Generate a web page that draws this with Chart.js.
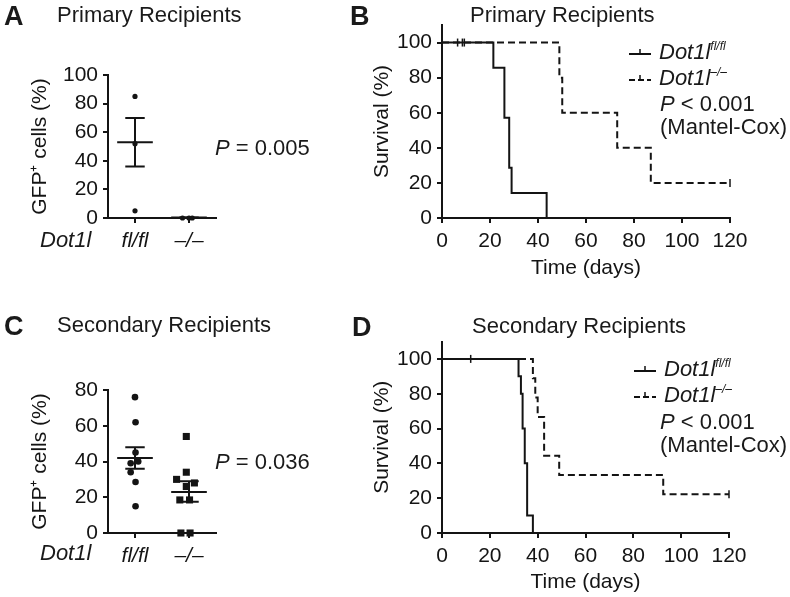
<!DOCTYPE html>
<html>
<head>
<meta charset="utf-8">
<script src="https://cdn.jsdelivr.net/npm/chart.js"></script>
<style>
body { margin: 0; background: #fff; font-family: "Liberation Sans", Arial, sans-serif; color: #1a1a1a; }
#wrap { position: relative; width: 790px; height: 597px; overflow: hidden; }
canvas { position: absolute; }
.t { position: absolute; white-space: nowrap; transform: translateY(-50%); font-size: 22px; line-height: 1; }
.lt { font-weight: bold; font-size: 27px; }
.t sup { font-size: 12px; vertical-align: 9px; line-height: 0; }
.t svg { vertical-align: middle; margin-right: 8px; }
</style>
</head>
<body>
<div id="wrap">
  <canvas id="cA" width="330" height="290" style="left:0;top:0"></canvas>
  <canvas id="cB" width="460" height="290" style="left:330px;top:0"></canvas>
  <canvas id="cC" width="330" height="297" style="left:0;top:300px"></canvas>
  <canvas id="cD" width="460" height="297" style="left:330px;top:300px"></canvas>

  <div class="t lt" style="left:4px;top:16px">A</div>
  <div class="t" style="left:57px;top:15px">Primary Recipients</div>
  <div class="t" style="left:215px;top:148px"><i>P</i> = 0.005</div>
  <div class="t" style="left:40px;top:240px"><i>Dot1l</i></div>

  <div class="t lt" style="left:350px;top:16px">B</div>
  <div class="t" style="left:470px;top:15px">Primary Recipients</div>
  <div class="t" style="left:629px;top:52px"><svg width="22" height="10"><line x1="0" y1="6" x2="22" y2="6" stroke="#111" stroke-width="2"/><line x1="11" y1="1" x2="11" y2="6" stroke="#111" stroke-width="1.5"/></svg><i>Dot1l<sup>fl/fl</sup></i></div>
  <div class="t" style="left:629px;top:78px"><svg width="22" height="10"><line x1="0" y1="6" x2="22" y2="6" stroke="#111" stroke-width="2" stroke-dasharray="6 3"/><line x1="11" y1="1" x2="11" y2="6" stroke="#111" stroke-width="1.5"/></svg><i>Dot1l<sup>–/–</sup></i></div>
  <div class="t" style="left:660px;top:104px"><i>P</i> &lt; 0.001</div>
  <div class="t" style="left:660px;top:127px">(Mantel-Cox)</div>

  <div class="t lt" style="left:4px;top:326px">C</div>
  <div class="t" style="left:57px;top:325px">Secondary Recipients</div>
  <div class="t" style="left:215px;top:462px"><i>P</i> = 0.036</div>
  <div class="t" style="left:40px;top:553px"><i>Dot1l</i></div>

  <div class="t lt" style="left:352px;top:327px">D</div>
  <div class="t" style="left:472px;top:326px">Secondary Recipients</div>
  <div class="t" style="left:634px;top:369px"><svg width="22" height="10"><line x1="0" y1="6" x2="22" y2="6" stroke="#111" stroke-width="2"/><line x1="11" y1="1" x2="11" y2="6" stroke="#111" stroke-width="1.5"/></svg><i>Dot1l<sup>fl/fl</sup></i></div>
  <div class="t" style="left:634px;top:395px"><svg width="22" height="10"><line x1="0" y1="6" x2="22" y2="6" stroke="#111" stroke-width="2" stroke-dasharray="6 3"/><line x1="11" y1="1" x2="11" y2="6" stroke="#111" stroke-width="1.5"/></svg><i>Dot1l<sup>–/–</sup></i></div>
  <div class="t" style="left:660px;top:422px"><i>P</i> &lt; 0.001</div>
  <div class="t" style="left:660px;top:445px">(Mantel-Cox)</div>
</div>
<script>
// groups on the dot plots
const groups = ['fl/fl', '–/–'];

// A: primary recipients, GFP+ cells (%)
const aFl = [85, 52, 5];
const aFlJit = [0, 0, 0];
const aKo = [0, 0, 0];
const aKoJit = [-0.12, 0, 0.06];
const aMean = [53, 0.3];
const aHi = [70, 0.6];
const aLo = [36, 0];

// C: secondary recipients, GFP+ cells (%)
const cFl = [76, 62, 45, 40, 39, 34, 28.5, 15];
const cFlJit = [0, 0.01, 0.01, 0.06, -0.08, -0.08, 0.01, 0.01];
const cKo = [54, 34, 30, 28, 26, 18.5, 18.5, 0, 0];
const cKoJit = [-0.05, -0.05, -0.23, 0.1, -0.05, -0.17, 0.01, -0.15, 0.02];
const cMean = [42, 23];
const cHi = [48, 29];
const cLo = [36, 17.5];

// B: primary recipients survival
const bFlDays = [0, 21.4, 26, 28, 29, 43.6];
const bFlSurv = [100, 85.7, 57.1, 28.6, 14.3, 0];
const bKoDays = [0, 48.9, 50.1, 73, 87, 120];
const bKoSurv = [100, 80, 60, 40, 20, 20];
const bFlCensor = [6.5, 8.5, 9.3];
const bKoCensor = [120];

// D: secondary recipients survival
const dFlDays = [0, 32, 33, 33.7, 34.6, 35.6, 38];
const dFlSurv = [100, 90, 80, 60, 40, 10, 0];
const dKoDays = [0, 38, 39, 40, 42.7, 49, 92.5, 120];
const dKoSurv = [100, 88.9, 77.8, 66.7, 44.4, 33.3, 22.2, 22.2];
const dFlCensor = [12];
const dKoCensor = [120];

const ink = '#141414';
Chart.defaults.font.family = '"Liberation Sans", Arial, sans-serif';
Chart.defaults.font.size = 21;
Chart.defaults.color = ink;
Chart.defaults.animation = false;
Chart.defaults.plugins.legend.display = false;
Chart.defaults.plugins.tooltip.enabled = false;

const gridOpt = { drawOnChartArea: false, drawTicks: true, tickLength: 5, color: ink, lineWidth: 2 };
const borderOpt = { display: true, color: ink, width: 2 };

function dotPanel(id, fl, flJ, ko, koJ, mean, hi, lo, yMax, pad, yW, xH, flR, koStyle, koR) {
  const pts = (v, j, c) => v.map((y, i) => ({ x: c + j[i], y: y }));
  const summary = [];
  [1, 2].forEach((c, g) => {
    summary.push(
      { x: c - 0.33, y: mean[g] }, { x: c + 0.33, y: mean[g] }, { x: c, y: null },
      { x: c, y: lo[g] }, { x: c, y: hi[g] }, { x: c, y: null },
      { x: c - 0.18, y: hi[g] }, { x: c + 0.18, y: hi[g] }, { x: c, y: null },
      { x: c - 0.18, y: lo[g] }, { x: c + 0.18, y: lo[g] }, { x: c, y: null }
    );
  });
  new Chart(document.getElementById(id), {
    type: 'scatter',
    data: {
      datasets: [
        { data: summary, showLine: true, spanGaps: false, pointRadius: 0, borderColor: ink, borderWidth: 2, clip: false },
        { data: pts(fl, flJ, 1), pointRadius: flR, pointStyle: 'circle', backgroundColor: ink, borderColor: ink, borderWidth: 0, clip: false },
        { data: pts(ko, koJ, 2), pointRadius: koR, pointStyle: koStyle, backgroundColor: ink, borderColor: ink, borderWidth: 0, clip: false }
      ]
    },
    options: {
      responsive: false,
      layout: { padding: pad },
      scales: {
        x: {
          type: 'linear', min: 0.5, max: 2.5,
          afterBuildTicks: s => { s.ticks = [{ value: 1 }, { value: 2 }]; },
          ticks: { callback: v => groups[Math.round(v) - 1], font: { size: 21, style: 'italic' }, padding: 6, maxRotation: 0, autoSkip: false },
          grid: gridOpt, border: borderOpt,
          afterFit: s => { s.height = xH; }
        },
        y: {
          min: 0, max: yMax,
          ticks: { stepSize: 20, padding: 5 },
          grid: gridOpt, border: borderOpt,
          title: { display: true, text: 'GFP⁺ cells (%)', font: { size: 21 }, padding: 0 },
          afterFit: s => { s.width = yW; }
        }
      }
    }
  });
}

function survPanel(id, flD, flS, koD, koS, flC, koC, pad, yW, xH) {
  const line = (d, s) => d.map((x, i) => ({ x: x, y: s[i] }));
  const at = (days, d, s) => days.map(x => {
    let v = s[0];
    d.forEach((dx, i) => { if (dx <= x) v = s[i]; });
    return { x: x, y: v };
  });
  new Chart(document.getElementById(id), {
    type: 'scatter',
    data: {
      datasets: [
        { data: line(flD, flS), showLine: true, stepped: true, pointRadius: 0, borderColor: ink, borderWidth: 2, clip: false },
        { data: line(koD, koS), showLine: true, stepped: true, pointRadius: 0, borderColor: ink, borderWidth: 2, borderDash: [7, 4], clip: false },
        { data: at(flC, flD, flS).concat(at(koC, koD, koS)), pointStyle: 'line', rotation: 90, pointRadius: 4, borderColor: ink, borderWidth: 1.5, clip: false }
      ]
    },
    options: {
      responsive: false,
      layout: { padding: pad },
      scales: {
        x: {
          type: 'linear', min: 0, max: 120,
          ticks: { stepSize: 20, padding: 6, maxRotation: 0 },
          grid: gridOpt, border: borderOpt,
          title: { display: true, text: 'Time (days)', font: { size: 21 }, padding: 0 },
          afterFit: s => { s.height = xH; }
        },
        y: {
          min: 0, max: 110,
          ticks: { stepSize: 20, includeBounds: false, padding: 5 },
          grid: gridOpt, border: borderOpt,
          title: { display: true, text: 'Survival (%)', font: { size: 21 }, padding: 0 },
          afterFit: s => { s.width = yW; }
        }
      }
    }
  });
}

dotPanel('cA', aFl, aFlJit, aKo, aKoJit, aMean, aHi, aLo, 100,
  { left: 28, top: 75, right: 114, bottom: 0 }, 80, 72, 2.6, 'circle', 2.6);
dotPanel('cC', cFl, cFlJit, cKo, cKoJit, cMean, cHi, cLo, 80,
  { left: 28, top: 90, right: 114, bottom: 0 }, 80, 64, 3.3, 'rect', 5);
survPanel('cB', bFlDays, bFlSurv, bKoDays, bKoSurv, bFlCensor, bKoCensor,
  { left: 40, top: 25, right: 60, bottom: 9 }, 72, 63);
survPanel('cD', dFlDays, dFlSurv, dKoDays, dKoSurv, dFlCensor, dKoCensor,
  { left: 40, top: 41.5, right: 61, bottom: 2 }, 72, 62);
</script>
</body>
</html>
